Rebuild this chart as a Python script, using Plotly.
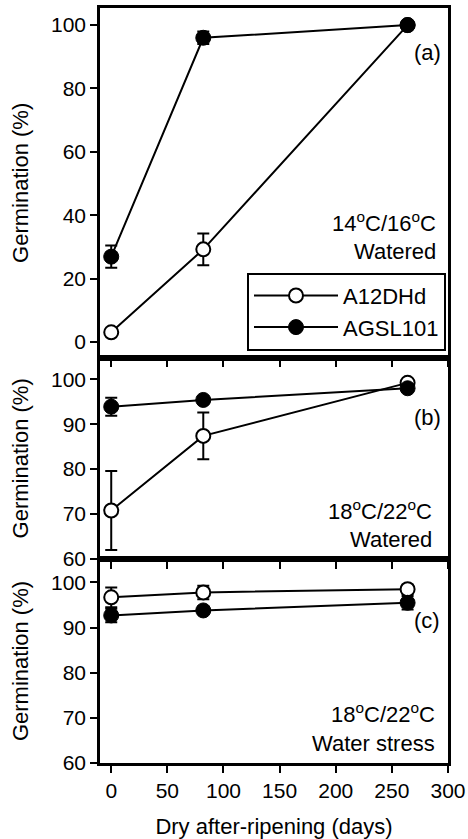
import plotly.graph_objects as go

# ---- data ----
days = [0, 82, 264]
series_names = ["A12DHd", "AGSL101"]

a_A12 = [3.0, 29.2, 100.0]
a_A12_err = [0.5, 5.0, 0.5]
a_AGSL = [26.9, 96.0, 100.0]
a_AGSL_err = [3.5, 2.0, 0.5]

b_A12 = [70.8, 87.4, 99.2]
b_A12_err = [8.8, 5.2, 0.5]
b_AGSL = [93.9, 95.4, 98.0]
b_AGSL_err = [2.0, 0.8, 0.8]

c_A12 = [96.7, 97.8, 98.5]
c_A12_err = [2.2, 1.5, 1.0]
c_AGSL = [92.7, 93.8, 95.5]
c_AGSL_err = [1.5, 0.8, 1.5]

panel_labels = ["(a)", "(b)", "(c)"]
cond_line1 = ["14<sup>o</sup>C/16<sup>o</sup>C", "18<sup>o</sup>C/22<sup>o</sup>C", "18<sup>o</sup>C/22<sup>o</sup>C"]
cond_line2 = ["Watered", "Watered", "Water stress"]
x_title = "Dry after-ripening (days)"
y_title = "Germination (%)"

# ---- layout geometry ----
W, H = 468, 839
ML, MR, MT, MB = 100, 20, 8, 76
PW = W - ML - MR
PH = H - MT - MB
FONT = "Liberation Sans, Arial, Helvetica, sans-serif"


def px(x):
    return (x - ML) / PW


def py(y):
    return (H - MB - y) / PH


fig = go.Figure()

panels = [
    ("y", a_A12, a_A12_err, a_AGSL, a_AGSL_err),
    ("y2", b_A12, b_A12_err, b_AGSL, b_AGSL_err),
    ("y3", c_A12, c_A12_err, c_AGSL, c_AGSL_err),
]
xaxes = ["x", "x2", "x3"]

for i, (yax, A12, A12e, AG, AGe) in enumerate(panels):
    fig.add_trace(go.Scatter(
        x=days, y=A12, mode="lines+markers", name=series_names[0],
        legendgroup="A12", showlegend=(i == 0),
        xaxis=xaxes[i], yaxis=yax,
        line=dict(color="black", width=2),
        marker=dict(symbol="circle", size=14, color="white", line=dict(color="black", width=2)),
        error_y=dict(type="data", array=A12e, visible=True, color="black", thickness=2, width=6),
    ))
    fig.add_trace(go.Scatter(
        x=days, y=AG, mode="lines+markers", name=series_names[1],
        legendgroup="AG", showlegend=(i == 0),
        xaxis=xaxes[i], yaxis=yax,
        line=dict(color="black", width=2),
        marker=dict(symbol="circle", size=15, color="black", line=dict(color="black", width=1)),
        error_y=dict(type="data", array=AGe, visible=True, color="black", thickness=2, width=6),
    ))

# panel pixel bounds (top, bottom)
bounds = [(8, 357.7), (357.7, 559), (559, 763)]
yranges = [[-5, 105.4], [60, 104.8], [60, 105.2]]
ydticks = [20, 10, 10]

axis_common = dict(showline=True, linecolor="black", linewidth=2.5, mirror=True,
                   ticks="outside", ticklen=7, tickwidth=2, tickcolor="black",
                   showgrid=False, zeroline=False, automargin=False,
                   tickfont=dict(family=FONT, size=21, color="black"))

layout_axes = {}
for i in range(3):
    top, bot = bounds[i]
    dom = [py(bot), py(top)]
    xname = "xaxis" if i == 0 else f"xaxis{i+1}"
    yname = "yaxis" if i == 0 else f"yaxis{i+1}"
    xa = dict(axis_common, range=[-10, 300], tick0=0, dtick=50,
              anchor="y" if i == 0 else f"y{i+1}",
              showticklabels=(i == 2))
    if i != 0:
        xa["matches"] = "x"
    if i == 2:
        xa["title"] = dict(text=x_title, font=dict(family=FONT, size=22, color="black"), standoff=22)
    ya = dict(axis_common, range=yranges[i], tick0=0, dtick=ydticks[i], domain=dom,
              anchor="x" if i == 0 else f"x{i+1}",
              title=dict(text=y_title, font=dict(family=FONT, size=22, color="black"), standoff=17))
    layout_axes[xname] = xa
    layout_axes[yname] = ya

fig.update_layout(**layout_axes)

# ---- annotations ----
label_pos = [(443, 53), (443, 417), (442, 620)]
line1_pos = [(438, 222), (434, 510), (437, 713)]
line2_pos = [(438, 251), (434, 539), (437, 743)]
anns = []
for i in range(3):
    items = ((panel_labels[i], label_pos[i]),
             (cond_line1[i], line1_pos[i]),
             (cond_line2[i], line2_pos[i]))
    for txt, (xx, yy) in items:
        anns.append(dict(text=txt, x=px(xx), y=py(yy), xref="paper", yref="paper",
                         xanchor="right", yanchor="middle", showarrow=False, align="right",
                         font=dict(family=FONT, size=22, color="black")))

fig.update_layout(
    width=W, height=H,
    margin=dict(l=ML, r=MR, t=MT, b=MB),
    paper_bgcolor="white", plot_bgcolor="white",
    font=dict(family=FONT, size=22, color="black"),
    annotations=anns,
    legend=dict(x=px(446), y=py(350.7), xanchor="right", yanchor="bottom",
                bordercolor="black", borderwidth=2, bgcolor="white",
                font=dict(family=FONT, size=22, color="black"),
                itemwidth=84, tracegroupgap=0),
    showlegend=True,
)

fig.write_html("out.html")
